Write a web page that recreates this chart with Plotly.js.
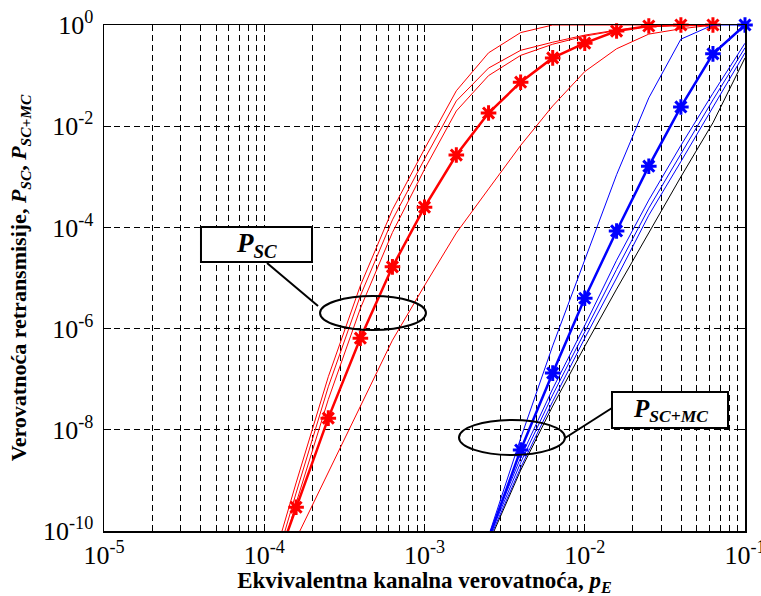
<!DOCTYPE html>
<html>
<head>
<meta charset="utf-8">
<script src="https://cdn.plot.ly/plotly-3.0.1.min.js"></script>
<style>html,body{margin:0;padding:0;background:#fff;}#chart{width:761px;height:596px;}</style>
</head>
<body>
<div id="chart"></div>
<script>
// x values (equivalent channel probability p_E)
const redX  = [1.0e-4, 1.58e-4, 2.51e-4, 3.98e-4, 6.31e-4, 1.0e-3, 1.58e-3, 2.51e-3, 3.98e-3, 6.31e-3, 1.0e-2, 1.58e-2, 2.51e-2, 3.98e-2, 6.31e-2];
const blueX = [2.51e-3, 3.98e-3, 6.31e-3, 1.0e-2, 1.58e-2, 2.51e-2, 3.98e-2, 6.31e-2, 1.0e-1];

// P_SC curves (red)
const pscMain = [5.0e-12, 2.95e-10, 1.70e-8, 6.46e-7, 1.66e-5, 2.51e-4, 2.69e-3, 1.82e-2, 7.41e-2, 0.224, 0.437, 0.759, 0.955, 1, 1];
const pscA    = [6.31e-12, 8.91e-10, 1.12e-7, 7.08e-6, 2.24e-4, 3.55e-3, 5.01e-2, 0.282, 0.708, 1, 1, 1, 1, 1, 1];
const pscB    = [3.98e-12, 5.62e-10, 7.08e-8, 4.47e-6, 1.41e-4, 2.24e-3, 3.16e-2, 0.141, 0.316, 0.457, 0.631, 0.794, 0.933, 1, 1];
const pscC    = [2.51e-12, 3.55e-10, 3.98e-8, 2.51e-6, 7.94e-5, 1.41e-3, 2.0e-2, 0.100, 0.251, 0.417, 0.603, 0.776, 0.933, 1, 1];
const pscD    = [3.55e-12, 7.08e-11, 1.41e-9, 2.82e-8, 5.89e-7, 7.08e-6, 7.76e-5, 5.75e-4, 4.17e-3, 2.51e-2, 0.120, 0.339, 0.661, 0.841, 1];

// P_SC+MC curves (blue, black)
const pmcMain = [7.08e-11, 3.98e-9, 1.32e-7, 3.98e-6, 8.51e-5, 1.62e-3, 2.40e-2, 0.269, 1];
const pmcF    = [7.94e-11, 6.76e-9, 4.57e-7, 2.29e-5, 1.10e-3, 3.63e-2, 0.525, 1, 1];
const pmcG    = [7.94e-11, 2.82e-9, 6.46e-8, 1.15e-6, 2.24e-5, 3.47e-4, 4.17e-3, 4.47e-2, 0.437];
const pmcH    = [7.08e-11, 2.24e-9, 4.90e-8, 8.71e-7, 1.48e-5, 2.40e-4, 2.88e-3, 3.31e-2, 0.355];
const pmcI    = [6.31e-11, 1.78e-9, 3.63e-8, 6.46e-7, 1.0e-5, 1.74e-4, 2.0e-3, 2.40e-2, 0.282];
const pmcK    = [5.62e-11, 1.58e-9, 2.95e-8, 4.47e-7, 6.03e-6, 7.94e-5, 1.0e-3, 1.17e-2, 0.224];

// tick labels
const xTickVals = [1e-5, 1e-4, 1e-3, 1e-2, 1e-1];
const xTickText = ['10<sup>-5</sup>', '10<sup>-4</sup>', '10<sup>-3</sup>', '10<sup>-2</sup>', '10<sup>-1</sup>'];
const yTickVals = [1e-10, 1e-8, 1e-6, 1e-4, 1e-2, 1];
const yTickText = ['10<sup>-10</sup>', '10<sup>-8</sup>', '10<sup>-6</sup>', '10<sup>-4</sup>', '10<sup>-2</sup>', '10<sup>0</sup>'];

// which points carry markers (first index with a visible marker)
const redMarkFrom = 1;
const blueMarkFrom = 1;

function thin(x, y, color) {
  return {x: x, y: y, type: 'scatter', mode: 'lines', line: {color: color, width: 1}, hoverinfo: 'skip', showlegend: false};
}
function thickLine(x, y, color) {
  return {x: x, y: y, type: 'scatter', mode: 'lines', line: {color: color, width: 2.5}, showlegend: false};
}
function stars(x, y, color) {
  return {x: x, y: y, type: 'scatter', mode: 'markers', cliponaxis: false, showlegend: false,
          marker: {symbol: 'asterisk-open', size: 13, color: color, line: {color: color, width: 3}}};
}

const data = [
  thin(redX, pscA, '#ff0000'),
  thin(redX, pscB, '#ff0000'),
  thin(redX, pscC, '#ff0000'),
  thin(redX, pscD, '#ff0000'),
  thickLine(redX, pscMain, '#ff0000'),
  stars(redX.slice(redMarkFrom), pscMain.slice(redMarkFrom), '#ff0000'),
  thin(blueX, pmcK, '#000000'),
  thin(blueX, pmcF, '#0000ff'),
  thin(blueX, pmcG, '#0000ff'),
  thin(blueX, pmcH, '#0000ff'),
  thin(blueX, pmcI, '#0000ff'),
  thickLine(blueX, pmcMain, '#0000ff'),
  stars(blueX.slice(blueMarkFrom), pmcMain.slice(blueMarkFrom), '#0000ff')
];

const gridDash = '6px,4px';
const tickFont = {family: 'Liberation Serif', size: 26, color: '#000'};
const titleFont = {family: 'Liberation Serif', color: '#000', weight: 'bold'};

const layout = {
  width: 761, height: 596,
  margin: {l: 104, r: 16, t: 25, b: 65},
  paper_bgcolor: '#fff', plot_bgcolor: '#fff',
  showlegend: false,
  xaxis: {
    type: 'log', range: [-5, -0.99999], tickmode: 'array', tickvals: xTickVals, ticktext: xTickText,
    showgrid: true, gridcolor: '#000', gridwidth: 1, griddash: gridDash,
    minor: {dtick: 'D1', showgrid: true, gridcolor: '#000', gridwidth: 1, griddash: gridDash, ticks: 'inside', ticklen: 4, tickcolor: '#000'},
    ticks: 'inside', ticklen: 7, tickcolor: '#000',
    showline: true, linecolor: '#000', linewidth: 1.5, mirror: 'ticks',
    tickfont: tickFont, ticklabelstandoff: 0, ticklabeloverflow: 'allow',
    title: {text: 'Ekvivalentna kanalna verovatnoća, <i>p</i><sub><i>E</i></sub>', font: Object.assign({size: 23}, titleFont), standoff: 2},
    zeroline: false
  },
  yaxis: {
    type: 'log', range: [-10, 0.00001], tickmode: 'array', tickvals: yTickVals, ticktext: yTickText,
    showgrid: true, gridcolor: '#000', gridwidth: 1, griddash: gridDash,
    ticks: 'inside', ticklen: 7, tickcolor: '#000',
    showline: true, linecolor: '#000', linewidth: 1.5, mirror: 'ticks',
    tickfont: tickFont, ticklabelstandoff: 4, ticklabeloverflow: 'allow',
    title: {text: 'Verovatnoća retransmisije, <i>P</i><sub><i>SC</i></sub>, <i>P</i><sub><i>SC+MC</i></sub>', font: Object.assign({size: 22}, titleFont), standoff: 10},
    zeroline: false
  },
  shapes: [
    {type: 'line', xref: 'paper', yref: 'paper', x0: 0.2543, y0: 0.5296, x1: 0.3339, y1: 0.4447, line: {color: '#000', width: 2}},
    {type: 'rect', xref: 'paper', yref: 'paper', x0: 0.1513, x1: 0.3245, y0: 0.5316, y1: 0.6008, fillcolor: '#fff', line: {color: '#000', width: 2}},
    {type: 'circle', xref: 'paper', yref: 'paper', x0: 0.337, x1: 0.5023, y0: 0.3972, y1: 0.4644, line: {color: '#000', width: 2}},
    {type: 'line', xref: 'paper', yref: 'paper', x0: 0.7192, y0: 0.1838, x1: 0.7925, y1: 0.2431, line: {color: '#000', width: 2}},
    {type: 'rect', xref: 'paper', yref: 'paper', x0: 0.7925, x1: 0.9735, y0: 0.2036, y1: 0.2747, fillcolor: '#fff', line: {color: '#000', width: 2}},
    {type: 'circle', xref: 'paper', yref: 'paper', x0: 0.5538, x1: 0.7192, y0: 0.1502, y1: 0.2194, line: {color: '#000', width: 2}}
  ],
  annotations: [
    {xref: 'paper', yref: 'paper', x: 0.2379, y: 0.5662, showarrow: false, xanchor: 'center', yanchor: 'middle',
     text: '<i>P</i><sub><i>SC</i></sub>', font: {family: 'Liberation Serif', size: 27, color: '#000', weight: 'bold'}},
    {xref: 'paper', yref: 'paper', x: 0.883, y: 0.2391, showarrow: false, xanchor: 'center', yanchor: 'middle',
     text: '<i>P</i><sub><i>SC+MC</i></sub>', font: {family: 'Liberation Serif', size: 25, color: '#000', weight: 'bold'}}
  ]
};

Plotly.newPlot('chart', data, layout, {staticPlot: true, displayModeBar: false});
</script>
</body>
</html>
